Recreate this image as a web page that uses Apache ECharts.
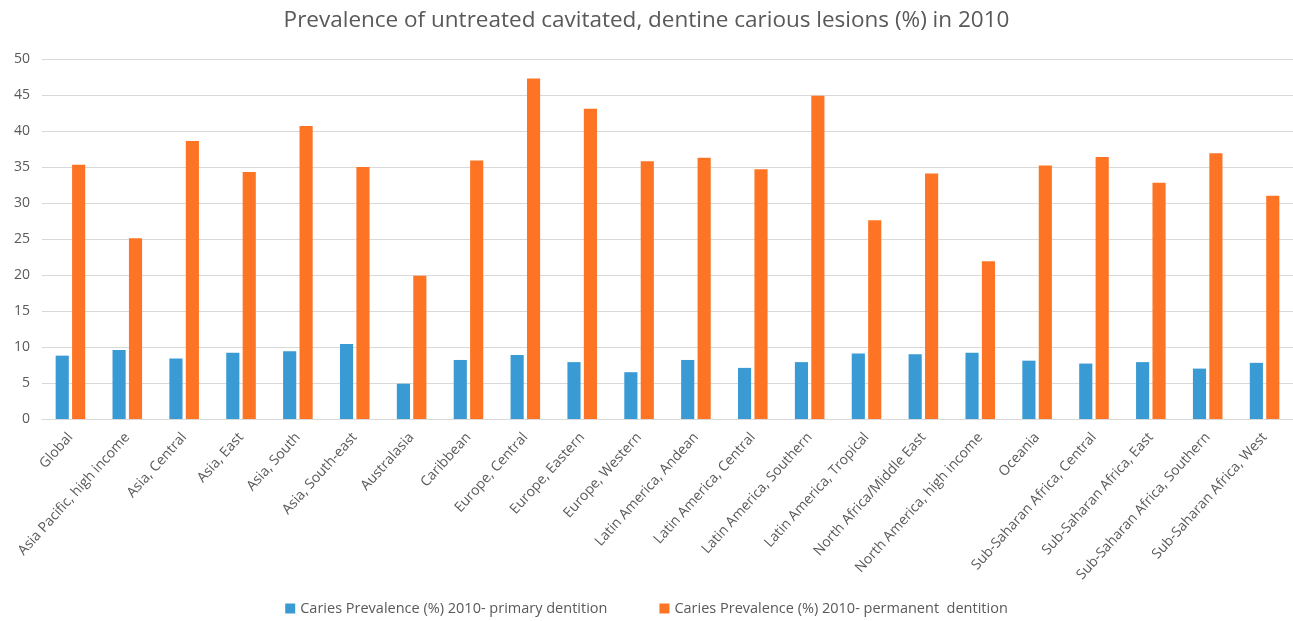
<!DOCTYPE html>
<html>
<head>
<meta charset="utf-8">
<script src="https://cdn.jsdelivr.net/npm/echarts@6/dist/echarts.min.js"></script>
<style>html,body{margin:0;padding:0;background:#fff}#c{width:1293px;height:621px}</style>
</head>
<body>
<div id="c"></div>
<script>
const categories = ["Global","Asia Pacific, high income","Asia, Central","Asia, East","Asia, South","Asia, South-east","Australasia","Caribbean","Europe, Central","Europe, Eastern","Europe, Western","Latin America, Andean","Latin America, Central","Latin America, Southern","Latin America, Tropical","North Africa/Middle East","North America, high income","Oceania","Sub-Saharan Africa, Central","Sub-Saharan Africa, East","Sub-Saharan Africa, Southern","Sub-Saharan Africa, West"];
const primary = [8.8,9.6,8.4,9.2,9.4,10.4,4.9,8.2,8.9,7.9,6.5,8.2,7.1,7.9,9.1,9.0,9.2,8.1,7.7,7.9,7.0,7.8];
const permanent = [35.3,25.1,38.6,34.3,40.7,35.0,19.9,35.9,47.3,43.1,35.8,36.3,34.7,44.9,27.6,34.1,21.9,35.2,36.4,32.8,36.9,31.0];
const seriesNames = ["Caries Prevalence (%) 2010- primary dentition","Caries Prevalence (%) 2010- permanent  dentition"];
const yTicks = {min:0,max:50,interval:5};

const font = "'Open Sans', 'Liberation Sans', sans-serif";
const chart = echarts.init(document.getElementById('c'));
chart.setOption({
  animation:false,
  title:{text:"Prevalence of untreated cavitated, dentine carious lesions (%) in 2010",left:'center',top:4,
    textStyle:{fontFamily:font,fontSize:22.5,fontWeight:'normal',color:'#595959'}},
  grid:{left:42,right:0,top:59,bottom:202,containLabel:false},
  legend:{bottom:0,left:'center',itemWidth:10,itemHeight:10,itemGap:52,icon:'rect',
    textStyle:{fontFamily:font,fontSize:14.5,color:'#595959'}},
  xAxis:{type:'category',data:categories,
    axisLine:{lineStyle:{color:'#d9d9d9'}},axisTick:{show:false},
    axisLabel:{rotate:48,interval:0,fontFamily:font,fontSize:14,color:'#595959',margin:16}},
  yAxis:{type:'value',min:yTicks.min,max:yTicks.max,interval:yTicks.interval,
    axisLine:{show:false},axisTick:{show:false},
    splitLine:{lineStyle:{color:'#d9d9d9',width:1}},
    axisLabel:{fontFamily:font,fontSize:14,color:'#595959',margin:12}},
  series:[
    {name:seriesNames[0],type:'bar',data:primary,itemStyle:{color:'#3a9ad3'},barGap:'25%',barCategoryGap:'48%'},
    {name:seriesNames[1],type:'bar',data:permanent,itemStyle:{color:'#fd7424'}}
  ]
});
</script>
</body>
</html>
